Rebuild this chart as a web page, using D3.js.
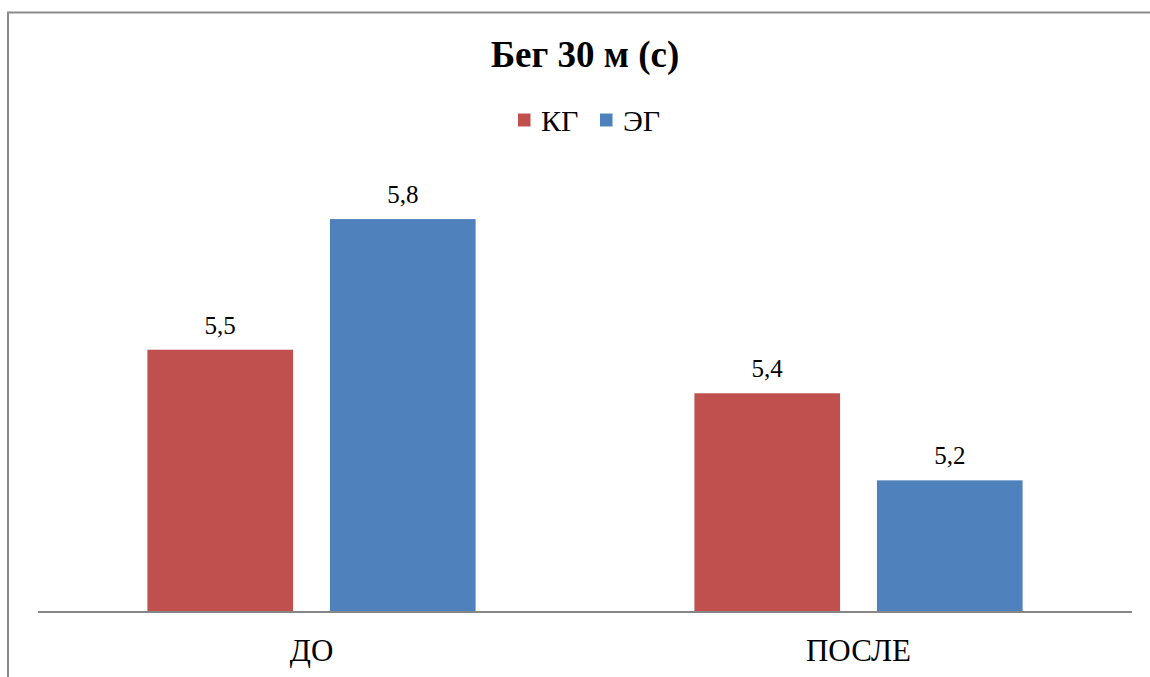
<!DOCTYPE html>
<html>
<head>
<meta charset="utf-8">
<script src="https://cdn.jsdelivr.net/npm/d3@7"></script>
<style>
  html, body { margin: 0; padding: 0; background: #fff; }
  svg { display: block; }
</style>
</head>
<body>
<svg id="chart" width="1150" height="677"></svg>
<script>
const title = "Бег 30 м (с)";
const categories = ["ДО", "ПОСЛЕ"];
const series = ["КГ", "ЭГ"];
const valuesKG = [5.5, 5.4];
const valuesEG = [5.8, 5.2];
const seriesColors = ["#C0504D", "#4F81BD"];
const yDomain = [4.9, 6.0];

const FONT = "'Liberation Serif', 'Times New Roman', 'DejaVu Serif', serif";

const svg = d3.select("#chart");

// chart border
svg.append("rect")
  .attr("x", 8).attr("y", 12.5)
  .attr("width", 1200).attr("height", 700)
  .attr("fill", "#fff")
  .attr("stroke", "#8a8a8a").attr("stroke-width", 2);

const plot = { left: 38, right: 1132, top: 132, bottom: 611 };

const x0 = d3.scaleBand().domain(categories).range([plot.left, plot.right]).padding(0);
const bw = x0.bandwidth();
const outer = bw * 0.2;
const x1 = d3.scaleBand().domain(series).range([outer, bw - outer]).paddingInner(0.202).paddingOuter(0);
const y = d3.scaleLinear().domain(yDomain).range([plot.bottom, plot.top]);

const data = categories.map((c, i) => ({
  cat: c,
  vals: [{ s: series[0], v: valuesKG[i] }, { s: series[1], v: valuesEG[i] }]
}));

const color = d3.scaleOrdinal().domain(series).range(seriesColors);

const groups = svg.append("g").selectAll("g").data(data).join("g")
  .attr("transform", d => `translate(${x0(d.cat)},0)`);

groups.selectAll("rect").data(d => d.vals).join("rect")
  .attr("x", d => x1(d.s))
  .attr("y", d => y(d.v))
  .attr("width", x1.bandwidth())
  .attr("height", d => y(yDomain[0]) - y(d.v))
  .attr("fill", d => color(d.s));

const fmt = v => d3.format(".1f")(v).replace(".", ",");
groups.selectAll("text.lbl").data(d => d.vals).join("text")
  .attr("class", "lbl")
  .attr("x", d => x1(d.s) + x1.bandwidth() / 2)
  .attr("y", d => y(d.v) - 16)
  .attr("text-anchor", "middle")
  .attr("fill", "#000")
  .style("font-family", FONT)
  .style("font-size", "25px")
  .text(d => fmt(d.v));

// x axis
const xAxis = d3.axisBottom(x0).tickSize(0).tickPadding(0);
const ax = svg.append("g").attr("transform", `translate(0,${plot.bottom})`).call(xAxis)
  .attr("font-family", null);
ax.select(".domain").attr("stroke", "#868686").attr("stroke-width", 2.2)
  .attr("d", `M${plot.left},1H${plot.right}`);
ax.selectAll(".tick text")
  .attr("y", 50).attr("dy", 0)
  .style("font-family", FONT)
  .style("font-size", "31px").attr("fill", "#000");

// title
svg.append("text")
  .attr("x", 585).attr("y", 67)
  .attr("text-anchor", "middle")
  .attr("fill", "#000")
  .style("font-family", FONT)
  .style("font-size", "37px").style("font-weight", "bold")
  .text(title);

// legend
const legendPos = [518, 600];
const lg = svg.append("g").selectAll("g").data(series).join("g")
  .attr("transform", (d, i) => `translate(${legendPos[i]},0)`);
lg.append("rect").attr("x", 0).attr("y", 113.5).attr("width", 12.5).attr("height", 13)
  .attr("fill", d => color(d));
lg.append("text").attr("x", 23).attr("y", 131)
  .attr("fill", "#000")
  .style("font-family", FONT)
  .style("font-size", "30px")
  .text(d => d);
</script>
</body>
</html>
